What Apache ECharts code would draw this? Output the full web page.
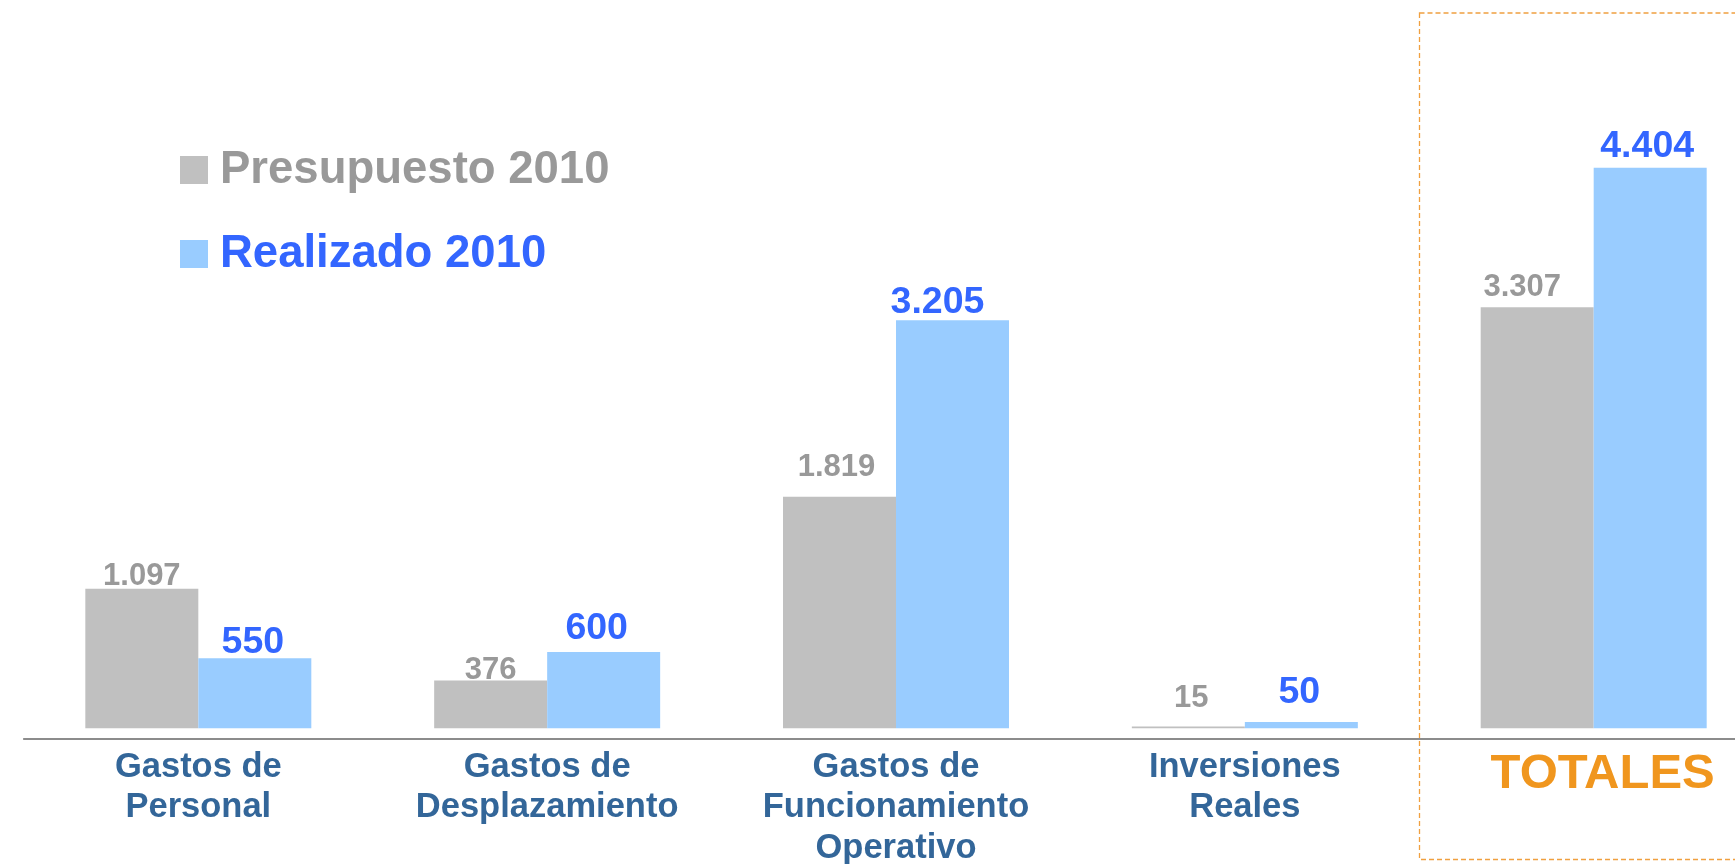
<!DOCTYPE html>
<html>
<head>
<meta charset="utf-8">
<script src="https://cdn.jsdelivr.net/npm/echarts@6/dist/echarts.min.js"></script>
<style>
  html, body { margin: 0; padding: 0; background: #ffffff; }
  #chart { width: 1735px; height: 864px; }
</style>
</head>
<body>
<div id="chart"></div>
<script>
// ---- data ----
const categories = [
  'Gastos de\nPersonal',
  'Gastos de\nDesplazamiento',
  'Gastos de\nFuncionamiento\nOperativo',
  'Inversiones\nReales',
  'TOTALES'
];
const seriesNames = ['Presupuesto 2010', 'Realizado 2010'];
const presupuesto = [1097, 376, 1819, 15, 3307];
const realizado = [550, 600, 3205, 50, 4404];

// ---- label nudges (style only) ----
const grayLabelDx = [0, 0, -3, 3, -15];
const grayLabelLift = [-3, -6, 14, 12, 4];
const blueLabelDx = [-2, -7, -15, -2, -3];
const blueLabelLift = [-3, 4, -1, 10, 2];

const FONT = '"Liberation Sans", Arial, Helvetica, sans-serif';
const fmt = v => String(v).replace(/\B(?=(\d{3})+(?!\d))/g, '.');

const chart = echarts.init(document.getElementById('chart'), null, { renderer: 'canvas' });

const option = {
  animation: false,
  backgroundColor: '#ffffff',
  textStyle: { fontFamily: FONT },
  grid: { left: 23.9, top: 91.8, width: 1744.2, bottom: 125, outerBoundsMode: 'none', containLabel: false },
  legend: {
    orient: 'vertical',
    left: 180,
    top: 147,
    padding: 0,
    itemWidth: 28,
    itemHeight: 28,
    itemGap: 38,
    icon: 'rect',
    selectedMode: false,
    textStyle: { fontFamily: FONT, fontSize: 45.5, fontWeight: 'bold', padding: [0, 0, 0, 7] },
    data: [
      { name: seriesNames[0], textStyle: { color: '#999999' } },
      { name: seriesNames[1], textStyle: { color: '#3366FF' } }
    ]
  },
  xAxis: {
    type: 'category',
    data: categories,
    axisLine: { show: true, onZero: false, lineStyle: { color: '#8C8C8C', width: 2 } },
    axisTick: { show: false },
    axisLabel: {
      interval: 0,
      margin: 8,
      color: '#336699',
      fontFamily: FONT,
      fontSize: 34.5,
      fontWeight: 'bold',
      lineHeight: 40.5,
      formatter: v => v === 'TOTALES' ? '{t|' + v + '}' : v,
      rich: {
        t: { color: '#F0961E', fontFamily: FONT, fontSize: 49, fontWeight: 'bold', lineHeight: 55, padding: [0, 0, 0, 18] }
      }
    },
    splitLine: { show: false }
  },
  yAxis: {
    type: 'value',
    min: -84,
    max: 5000,
    show: false,
    splitLine: { show: false }
  },
  graphic: [
    {
      type: 'rect',
      z: -1,
      silent: true,
      shape: { x: 1419.5, y: 13, width: 400, height: 846.5 },
      style: { fill: 'none', stroke: '#F0A040', lineWidth: 1.3, lineDash: [5, 3] }
    }
  ],
  series: [
    {
      name: seriesNames[0],
      type: 'bar',
      barWidth: 113,
      barGap: '0%',
      clip: false,
      itemStyle: { color: '#C0C0C0' },
      label: {
        show: true,
        position: 'top',
        distance: 0,
        color: '#999999',
        fontFamily: FONT,
        fontSize: 31,
        fontWeight: 'bold',
        formatter: p => fmt(p.value)
      },
      data: presupuesto.map((v, i) => ({ value: v, label: { offset: [grayLabelDx[i], -grayLabelLift[i]] } }))
    },
    {
      name: seriesNames[1],
      type: 'bar',
      barWidth: 113,
      barGap: '0%',
      clip: false,
      itemStyle: { color: '#99CCFF' },
      label: {
        show: true,
        position: 'top',
        distance: 0,
        color: '#3366FF',
        fontFamily: FONT,
        fontSize: 37.5,
        fontWeight: 'bold',
        formatter: p => fmt(p.value)
      },
      data: realizado.map((v, i) => ({ value: v, label: { offset: [blueLabelDx[i], -blueLabelLift[i]] } }))
    }
  ]
};

chart.setOption(option);
</script>
</body>
</html>
